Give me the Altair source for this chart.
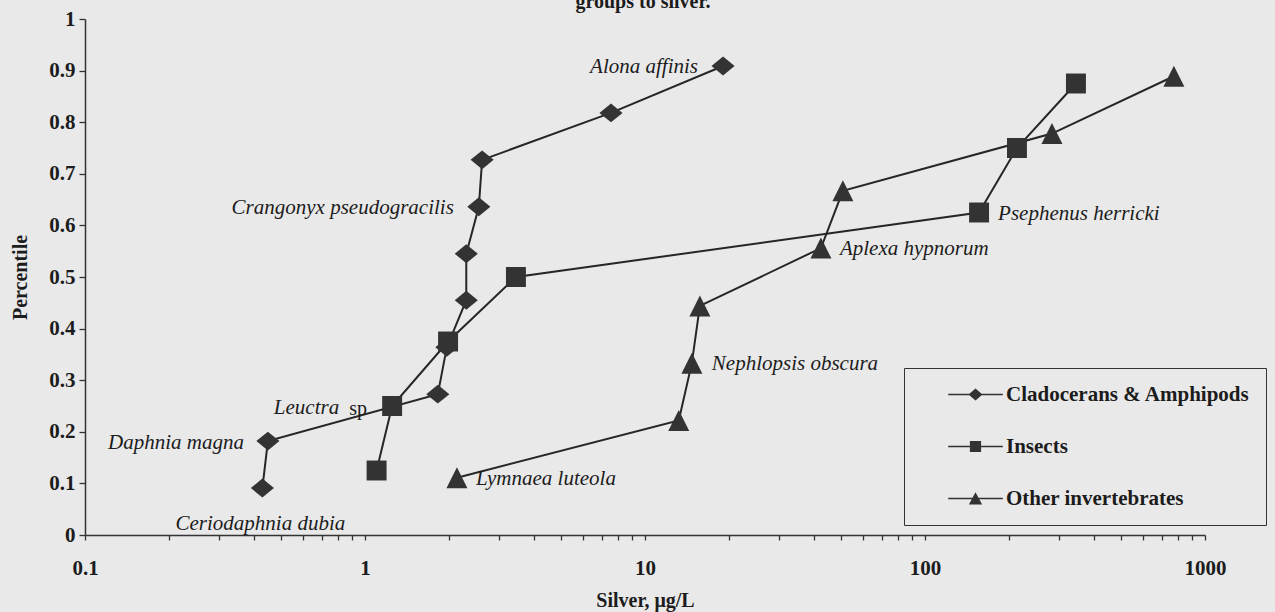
import altair as alt
import pandas as pd

# ---------------- data ----------------
groups = ["Cladocerans & Amphipods", "Insects", "Other invertebrates"]

clad_silver = [0.43, 0.45, 1.82, 1.96, 2.30, 2.30, 2.55, 2.62, 7.56, 19.0]
clad_pct = [0.091, 0.182, 0.273, 0.364, 0.455, 0.545, 0.636, 0.727, 0.818, 0.909]

insect_silver = [1.10, 1.25, 1.98, 3.46, 156, 213, 346]
insect_pct = [0.125, 0.25, 0.375, 0.5, 0.625, 0.75, 0.875]

other_silver = [2.13, 13.2, 14.7, 15.7, 42.5, 50.9, 284, 774]
other_pct = [0.111, 0.222, 0.333, 0.444, 0.556, 0.667, 0.778, 0.889]

# species labels: name, group index, point index
label_names = ["Alona affinis", "Crangonyx pseudogracilis", "Daphnia magna",
               "Ceriodaphnia dubia", "Leuctra", "sp", "Lymnaea luteola",
               "Nephlopsis obscura", "Aplexa hypnorum", "Psephenus herricki"]
label_group = [0, 0, 0, 0, 1, 1, 2, 2, 2, 1]
label_index = [9, 6, 1, 0, 1, 1, 0, 2, 4, 4]

x_major = [0.1, 1, 10, 100, 1000]
y_ticks = [0, 0.1, 0.2, 0.3, 0.4, 0.5, 0.6, 0.7, 0.8, 0.9, 1]

title_text = "groups to silver."
x_title = "Silver, μg/L"
y_title = "Percentile"

# ---------------- styles / layout (not data) ----------------
label_style = [  # align, dx, dy, italic
    ("right", -25, 1, True),
    ("right", -25, 1, True),
    ("right", -24, 2, True),
    ("center", -2, 36, True),
    ("right", -53, 2, True),
    ("left", -43, 3, False),
    ("left", 19, 1, True),
    ("left", 20, 1, True),
    ("left", 19, 1, True),
    ("left", 19, 1, True),
]

INK = "#1c1c1c"
MARK = "#333333"
FONT = "Liberation Serif"

point_paths = [
    "M-1.1,0L0,-0.9L1.1,0L0,0.9Z",
    "M-0.95,-0.95L0.95,-0.95L0.95,0.95L-0.95,0.95Z",
    "M0,-1L1,1L-1,1Z",
]
# legend symbols: a thin filled bar (the line) plus the marker, all drawn clockwise
BAR = "M-3.9,-0.11L3.9,-0.11L3.9,0.11L-3.9,0.11Z"
legend_paths = [
    BAR + "M-1,0L0,-0.85L1,0L0,0.85Z",
    BAR + "M-0.8,-0.8L0.8,-0.8L0.8,0.8L-0.8,0.8Z",
    BAR + "M0,-0.9L0.95,0.85L-0.95,0.85Z",
]

# ---------------- build tables ----------------
series = [(clad_silver, clad_pct), (insect_silver, insect_pct), (other_silver, other_pct)]
rows = []
for g, (xs, ps) in zip(groups, series):
    for xv, pv in zip(xs, ps):
        rows.append({"group": g, "silver": xv, "pct": pv})
df = pd.DataFrame(rows)

x_ticks = [round(m * d, 6) for d in x_major[:-1] for m in range(1, 10)] + [x_major[-1]]
major_expr = "[" + ",".join(str(v) for v in x_major) + "]"

xenc = alt.X(
    "silver:Q",
    scale=alt.Scale(type="log", domain=[x_major[0], x_major[-1]], nice=False),
    axis=alt.Axis(
        values=x_ticks,
        format="~g",
        labelExpr=f"indexof({major_expr}, datum.value) >= 0 ? datum.label : ''",
        title=x_title,
        tickSize=5,
        labelPadding=17,
        titlePadding=12,
        labelFontSize=21,
        labelFontWeight="bold",
        titleFontSize=20,
        titleFontWeight="bold",
        labelFlush=False,
        labelOverlap=False,
    ),
)
yenc = alt.Y(
    "pct:Q",
    scale=alt.Scale(domain=[0, 1], nice=False),
    axis=alt.Axis(
        values=y_ticks,
        format="~g",
        title=y_title,
        tickSize=6,
        labelPadding=4,
        titlePadding=18,
        labelFontSize=21,
        labelFontWeight="bold",
        titleFontSize=20,
        titleFontWeight="bold",
    ),
)

base = alt.Chart(df)

lines = base.mark_line(color="#262626", strokeWidth=2).encode(
    x=xenc, y=yenc, detail="group:N", order=alt.Order("pct:Q")
)

points = base.mark_point(filled=True, color=MARK, size=441, opacity=1).encode(
    x=xenc,
    y=yenc,
    shape=alt.Shape("group:N", scale=alt.Scale(domain=groups, range=point_paths), legend=None),
)

legend_layer = base.mark_point(filled=True, color=MARK, size=196, opacity=0).encode(
    x=xenc,
    y=yenc,
    shape=alt.Shape(
        "legend_group:N",
        scale=alt.Scale(domain=groups, range=legend_paths),
        legend=alt.Legend(
            title=None,
            orient="none",
            legendX=819,
            legendY=349,
            padding=16,
            strokeColor=MARK,
            symbolSize=196,
            symbolOffset=45,
            labelOffset=20,
            rowPadding=30,
            symbolOpacity=1,
            symbolFillColor="#2a2a2a",
            symbolStrokeWidth=0,
            labelFont=FONT,
            labelFontSize=21,
            labelFontWeight="bold",
            labelColor=INK,
            labelLimit=400,
        ),
    ),
).transform_calculate(legend_group="datum.group")

text_layers = []
for name, gi, pi, (align, dx, dy, italic) in zip(label_names, label_group, label_index, label_style):
    xs, ps = series[gi]
    tdf = pd.DataFrame({"name": [name], "silver": [xs[pi]], "pct": [ps[pi]]})
    text_layers.append(
        alt.Chart(tdf).mark_text(
            align=align, dx=dx, dy=dy, baseline="middle", font=FONT,
            fontStyle="italic" if italic else "normal",
            fontSize=21 if italic else 20, color=INK,
        ).encode(x=xenc, y=yenc, text="name:N")
    )

# figure caption fragment, cut by the top edge as in the source image
title_layer = alt.Chart(pd.DataFrame({"t": [title_text]})).mark_text(
    align="center", baseline="alphabetic", font=FONT, fontSize=20,
    fontWeight="bold", color=INK,
).encode(x=alt.value(558), y=alt.value(-11), text="t:N")

chart = alt.layer(lines, points, legend_layer, *text_layers, title_layer).resolve_scale(
    shape="independent"
).properties(
    width=1120,
    height=516,
    padding={"left": 85, "top": 19, "right": 70, "bottom": 77},
    autosize=alt.AutoSizeParams(type="none"),
    background="#e9e9e9",
).configure_view(stroke=None).configure_axis(
    grid=False,
    domainColor=MARK,
    domainWidth=1.5,
    tickColor=MARK,
    tickWidth=1.3,
    labelColor=INK,
    titleColor=INK,
    labelFont=FONT,
    titleFont=FONT,
)

chart.save("out.html", embed_options={"renderer": "svg", "actions": False})
